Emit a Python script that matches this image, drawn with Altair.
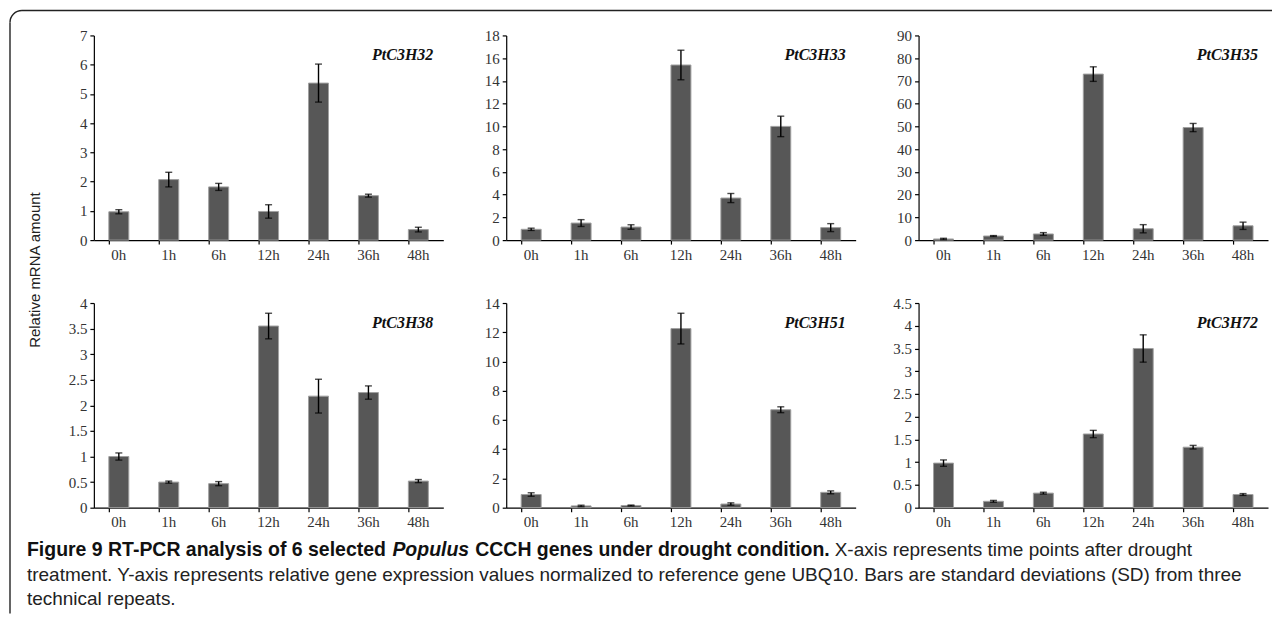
import altair as alt
import pandas as pd

times = ["0h", "1h", "6h", "12h", "24h", "36h", "48h"]

genes = ["PtC3H32", "PtC3H33", "PtC3H35", "PtC3H38", "PtC3H51", "PtC3H72"]

mean_32 = [0.97, 2.07, 1.82, 0.98, 5.37, 1.52, 0.36]
sd_32 = [0.07, 0.25, 0.12, 0.23, 0.65, 0.05, 0.08]

mean_33 = [0.95, 1.50, 1.15, 15.4, 3.70, 10.0, 1.10]
sd_33 = [0.10, 0.30, 0.20, 1.30, 0.40, 0.90, 0.35]

mean_35 = [0.5, 1.8, 2.7, 73.0, 5.0, 49.5, 6.3]
sd_35 = [0.3, 0.2, 0.6, 3.2, 1.8, 1.8, 1.6]

mean_38 = [1.00, 0.50, 0.47, 3.55, 2.18, 2.25, 0.52]
sd_38 = [0.07, 0.02, 0.04, 0.25, 0.33, 0.13, 0.03]

mean_51 = [0.90, 0.12, 0.15, 12.25, 0.25, 6.70, 1.05]
sd_51 = [0.12, 0.05, 0.03, 1.05, 0.08, 0.20, 0.10]

mean_72 = [0.98, 0.14, 0.32, 1.62, 3.50, 1.33, 0.29]
sd_72 = [0.07, 0.02, 0.02, 0.08, 0.30, 0.04, 0.02]

y_ticks_32 = [0, 1, 2, 3, 4, 5, 6, 7]
y_ticks_33 = [0, 2, 4, 6, 8, 10, 12, 14, 16, 18]
y_ticks_35 = [0, 10, 20, 30, 40, 50, 60, 70, 80, 90]
y_ticks_38 = [0, 0.5, 1, 1.5, 2, 2.5, 3, 3.5, 4]
y_ticks_51 = [0, 2, 4, 6, 8, 10, 12, 14]
y_ticks_72 = [0, 0.5, 1, 1.5, 2, 2.5, 3, 3.5, 4, 4.5]

y_title = ["Relative mRNA amount"]
cap_l1_a = ["Figure 9 RT-PCR analysis of 6 selected"]
cap_l1_b = ["Populus"]
cap_l1_c = ["CCCH genes under drought condition."]
cap_l1_d = ["X-axis represents time points after drought"]
cap_l2 = ["treatment. Y-axis represents relative gene expression values normalized to reference gene UBQ10. Bars are standard deviations (SD) from three"]
cap_l3 = ["technical repeats."]

W, H = 350, 205
SERIF = "Liberation Serif"
SANS = "Liberation Sans"
BAR_FILL = "#575757"
BAR_STROKE = "#a0a0a0"
OX, OY = 94, 35  # page position of the first panel's plot origin


def text_layer(txt, x, y, **kw):
    return alt.Chart(pd.DataFrame({"t": txt})).mark_text(**kw).encode(
        text="t:N", x=alt.value(x), y=alt.value(y)
    )


def axis_style(**kw):
    return alt.Axis(
        title=None, tickSize=4, tickColor="black", domainColor="black",
        domainWidth=1.2, tickWidth=1.2, labelFont=SERIF, labelFontSize=15,
        labelColor="#333333", labelPadding=3, **kw
    )


def panel(gene, means, sds, ticks, extras=None):
    df = pd.DataFrame({"time": times, "mean": means, "sd": sds})
    df["lo"] = df["mean"] - df["sd"]
    df["hi"] = df["mean"] + df["sd"]
    xscale = alt.Scale(paddingInner=0.6, paddingOuter=0.3)
    xaxis = axis_style(labelAngle=0, bandPosition=0)
    yscale = alt.Scale(domain=[0, ticks[-1]], nice=False, zero=True)
    yaxis = axis_style(values=ticks, grid=False, labelExpr="'' + datum.value",
                       labelOverlap=False)

    def X():
        return alt.X("time:N", sort=times, scale=xscale, axis=xaxis)

    def Y(field):
        return alt.Y(field, scale=yscale, axis=yaxis)

    base = alt.Chart(df)
    bars = base.mark_bar(fill=BAR_FILL, stroke=BAR_STROKE, strokeWidth=1).encode(
        x=X(), y=Y("mean:Q")
    )
    err = base.mark_rule(color="black", strokeWidth=1.4).encode(
        x=X(), y=Y("lo:Q"), y2="hi:Q"
    )
    cap_hi = base.mark_tick(color="black", size=7, thickness=1.4).encode(
        x=X(), y=Y("hi:Q")
    )
    cap_lo = base.mark_tick(color="black", size=7, thickness=1.4).encode(
        x=X(), y=Y("lo:Q")
    )
    name = text_layer(
        [gene], W - 10, 20, align="right", baseline="middle", font=SERIF,
        fontSize=16, fontWeight="bold", fontStyle="italic", color="#111111",
    )
    layers = [bars, err, cap_hi, cap_lo, name]
    if extras:
        layers += extras
    return alt.layer(*layers).properties(width=W, height=H)


# frame, shared y title and caption, placed relative to the first panel
deco = []
one = pd.DataFrame({"d": [0]})
deco.append(
    alt.Chart(one).mark_rule(color="#222222", strokeWidth=1.4).encode(
        x=alt.value(10 - OX), y=alt.value(22 - OY), y2=alt.value(614 - OY)
    )
)
deco.append(
    alt.Chart(one).mark_rule(color="#222222", strokeWidth=1.4).encode(
        x=alt.value(22 - OX), x2=alt.value(1274 - OX), y=alt.value(10 - OY)
    )
)
deco.append(
    alt.Chart(one).mark_arc(
        color="#222222", theta=4.7124, theta2=6.2832, radius=12.7, radius2=11.3
    ).encode(x=alt.value(22 - OX), y=alt.value(22 - OY))
)
deco.append(
    text_layer(y_title, 35 - OX, 270 - OY, angle=270, align="center",
               baseline="middle", font=SANS, fontSize=15, color="#222222")
)
CAP_Y1, CAP_Y2, CAP_Y3 = 550 - OY, 575 - OY, 599 - OY
BOLD = 19.5
deco.append(text_layer(cap_l1_a, 27 - OX, CAP_Y1, align="left", baseline="middle",
                       font=SANS, fontSize=BOLD, fontWeight="bold", color="#111111"))
deco.append(text_layer(cap_l1_b, 393 - OX, CAP_Y1, align="left", baseline="middle",
                       font=SANS, fontSize=BOLD, fontWeight="bold", fontStyle="italic",
                       color="#111111"))
deco.append(text_layer(cap_l1_c, 476 - OX, CAP_Y1, align="left", baseline="middle",
                       font=SANS, fontSize=BOLD, fontWeight="bold", color="#111111"))
deco.append(text_layer(cap_l1_d, 836 - OX, CAP_Y1, align="left", baseline="middle",
                       font=SANS, fontSize=19, color="#222222"))
deco.append(text_layer(cap_l2, 27 - OX, CAP_Y2, align="left", baseline="middle",
                       font=SANS, fontSize=19, color="#222222"))
deco.append(text_layer(cap_l3, 27 - OX, CAP_Y3, align="left", baseline="middle",
                       font=SANS, fontSize=19, color="#222222"))

p1 = panel(genes[0], mean_32, sd_32, y_ticks_32, deco)
p2 = panel(genes[1], mean_33, sd_33, y_ticks_33)
p3 = panel(genes[2], mean_35, sd_35, y_ticks_35)
p4 = panel(genes[3], mean_38, sd_38, y_ticks_38)
p5 = panel(genes[4], mean_51, sd_51, y_ticks_51)
p6 = panel(genes[5], mean_72, sd_72, y_ticks_72)

chart = (
    alt.concat(p1, p2, p3, p4, p5, p6, columns=3, spacing=63, bounds="flush")
    .resolve_scale(y="independent", x="independent")
    .properties(padding=1, background="white")
    .configure_view(strokeWidth=0)
)

chart.save("out.html", embed_options={"renderer": "svg", "actions": False})
